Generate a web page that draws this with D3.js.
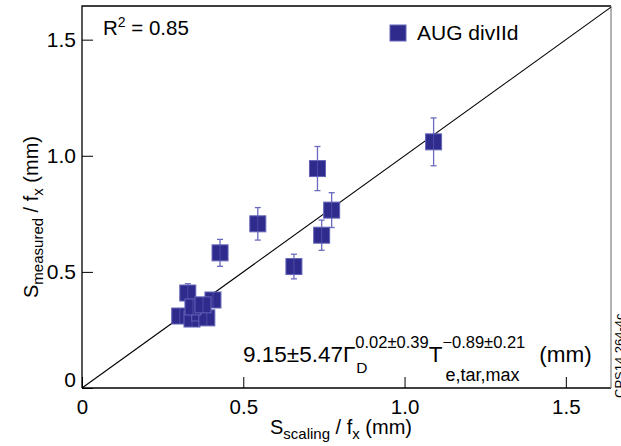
<!DOCTYPE html>
<html>
<head>
<meta charset="utf-8">
<script src="https://cdn.jsdelivr.net/npm/d3@7"></script>
<style>
  body { margin: 0; background: #fff; }
  text { font-family: "Liberation Sans", Arial, Helvetica, sans-serif; fill: #000; }
</style>
</head>
<body>
<div id="chart"></div>
<script>
const WIDTH = 621, HEIGHT = 446;
const MARGIN = { left: 82, right: 10, top: 6, bottom: 58 };

// values
const xVals = [1.090, 0.730, 0.774, 0.743, 0.657, 0.545, 0.428, 0.328, 0.406, 0.303, 0.341, 0.365, 0.387, 0.344, 0.375];
const yVals = [1.060, 0.945, 0.766, 0.658, 0.523, 0.707, 0.582, 0.409, 0.379, 0.310, 0.297, 0.323, 0.302, 0.349, 0.358];
const yErr  = [0.103, 0.095, 0.075, 0.065, 0.053, 0.070, 0.058, 0.040, 0.030, 0.015, 0.015, 0.015, 0.015, 0.015, 0.015];
const xTicks = [0, 0.5, 1.0, 1.5];
const yTicks = [0, 0.5, 1.0, 1.5];
const tickLabels = ["0", "0.5", "1.0", "1.5"];
const X_MAX = 1.64, Y_MAX = 1.645;

const FILL = "#2e2b8c", EDGE = "#6464b8", ERRC = "#6a6abf";

const svg = d3.select("#chart").append("svg")
    .attr("width", WIDTH)
    .attr("height", HEIGHT)

const x = d3.scaleLinear().domain([0, X_MAX]).range([MARGIN.left, WIDTH - MARGIN.right]);
const y = d3.scaleLinear().domain([0, Y_MAX]).range([HEIGHT - MARGIN.bottom, MARGIN.top]);

const fmt = d => tickLabels[xTicks.indexOf(d)]

// axes, ticks pointing in
const gx = svg.append("g")
    .attr("transform", `translate(0,${y(0)})`)
    .call(d3.axisBottom(x).tickValues(xTicks).tickFormat(fmt).tickSizeInner(-11).tickSizeOuter(0).tickPadding(8))
gx.select(".domain").remove()
gx.selectAll("text").attr("font-size", 20.5).attr("dy", "0.88em")
gx.selectAll("line").attr("stroke", "#000")

const gy = svg.append("g")
    .attr("transform", `translate(${x(0)},0)`)
    .call(d3.axisLeft(y).tickValues(yTicks).tickFormat(fmt).tickSizeInner(-11).tickSizeOuter(0).tickPadding(6))
gy.select(".domain").remove()
gy.selectAll("text").attr("font-size", 21)
gy.selectAll(".tick").filter(d => d === 0).select("text").attr("dy", "-0.05em")
gy.selectAll("line").attr("stroke", "#000")

// frame
const [x0, x1] = x.range(), [y0, y1] = y.range();
svg.append("path").attr("d", `M${x0},${y0}V${y1}H${x1}`).attr("fill", "none").attr("stroke", "#000").attr("stroke-width", 1.3)
svg.append("path").attr("d", `M${x0},${y0}H${x1}`).attr("fill", "none").attr("stroke", "#000").attr("stroke-width", 1.3)
svg.append("path").attr("d", `M${x1},${y1}V${y0}`).attr("fill", "none").attr("stroke", "#8a8a8a").attr("stroke-width", 1.3)

// y = x line
svg.append("line")
    .attr("x1", x(0)).attr("y1", y(0))
    .attr("x2", x(X_MAX)).attr("y2", y(X_MAX))
    .attr("stroke", "#000").attr("stroke-width", 1.1)

// points: error bars under the squares, a faint centre line over them
const pts = xVals.map((v, i) => ({ x: v, y: yVals[i], e: yErr[i] }))
const S = 16;
const g = svg.append("g")
const pt = g.selectAll("g").data(pts).enter().append("g")
pt.append("line")
    .attr("x1", d => x(d.x)).attr("x2", d => x(d.x))
    .attr("y1", d => y(d.y + d.e)).attr("y2", d => y(d.y - d.e))
    .attr("stroke", ERRC).attr("stroke-width", 1.3)
pt.selectAll(".cap").data(d => [d.y + d.e, d.y - d.e].map(v => ({ x: d.x, v }))).enter().append("line")
    .attr("class", "cap")
    .attr("x1", d => x(d.x) - 3).attr("x2", d => x(d.x) + 3)
    .attr("y1", d => y(d.v)).attr("y2", d => y(d.v))
    .attr("stroke", ERRC).attr("stroke-width", 1.3)
pt.append("rect")
    .attr("x", d => x(d.x) - S / 2).attr("y", d => y(d.y) - S / 2)
    .attr("width", S).attr("height", S)
    .attr("fill", FILL).attr("stroke", EDGE).attr("stroke-width", 1)
pt.append("line")
    .attr("x1", d => x(d.x)).attr("x2", d => x(d.x))
    .attr("y1", d => y(d.y) - S / 2).attr("y2", d => y(d.y) + S / 2)
    .attr("stroke", ERRC).attr("stroke-width", 1).attr("opacity", 0.5)

// axis titles
const xt = svg.append("text").attr("x", 341).attr("y", 434).attr("text-anchor", "middle").attr("font-size", 20)
xt.append("tspan").text("S")
xt.append("tspan").attr("font-size", 15).attr("dy", 5).text("scaling")
xt.append("tspan").attr("dy", -5).text("\u00a0/ f")
xt.append("tspan").attr("font-size", 15).attr("dy", 5).text("x")
xt.append("tspan").attr("dy", -5).text("\u00a0(mm)")

const yt = svg.append("text").attr("transform", "translate(38,217) rotate(-90)").attr("text-anchor", "middle").attr("font-size", 20)
yt.append("tspan").text("S")
yt.append("tspan").attr("font-size", 15).attr("dy", 5).text("measured")
yt.append("tspan").attr("dy", -5).text("\u00a0/ f")
yt.append("tspan").attr("font-size", 15).attr("dy", 5).text("x")
yt.append("tspan").attr("dy", -5).text("\u00a0(mm)")

// R^2
const r2 = svg.append("text").attr("x", 103).attr("y", 35).attr("font-size", 20.5)
r2.append("tspan").text("R")
r2.append("tspan").attr("font-size", 14).attr("dy", -8).text("2")
r2.append("tspan").attr("dy", 8).text("\u00a0= 0.85")

// legend
svg.append("rect").attr("x", 390).attr("y", 25).attr("width", S).attr("height", S)
    .attr("fill", FILL).attr("stroke", EDGE)
svg.append("text").attr("x", 417).attr("y", 40).attr("font-size", 21).text("AUG divIId")

// scaling formula, pieces laid out one after the other
function piece(px, py, txt, size) {
    const t = svg.append("text").attr("x", px).attr("y", py).attr("font-size", size).text(txt)
    return px + t.node().getComputedTextLength()
}
let cx = 243;
cx = piece(cx, 362, "9.15±5.47Γ", 22.5)
let a = piece(cx, 348, "0.02±0.39", 16.5)
let b = piece(cx + 1, 373, "D", 15.5)
cx = Math.max(a, b)
cx = piece(cx, 362, "T", 22.5)
a = piece(cx, 348, "−0.89±0.21", 16.5)
b = piece(cx + 3, 381, "e,tar,max", 18)
cx = Math.max(a, b)
piece(cx + 14, 362, "(mm)", 22.5)

// figure id on the right edge
svg.append("text").attr("transform", "translate(624,398) rotate(-90)").attr("font-size", 13).text("CPS14.264-4c")
</script>
</body>
</html>
